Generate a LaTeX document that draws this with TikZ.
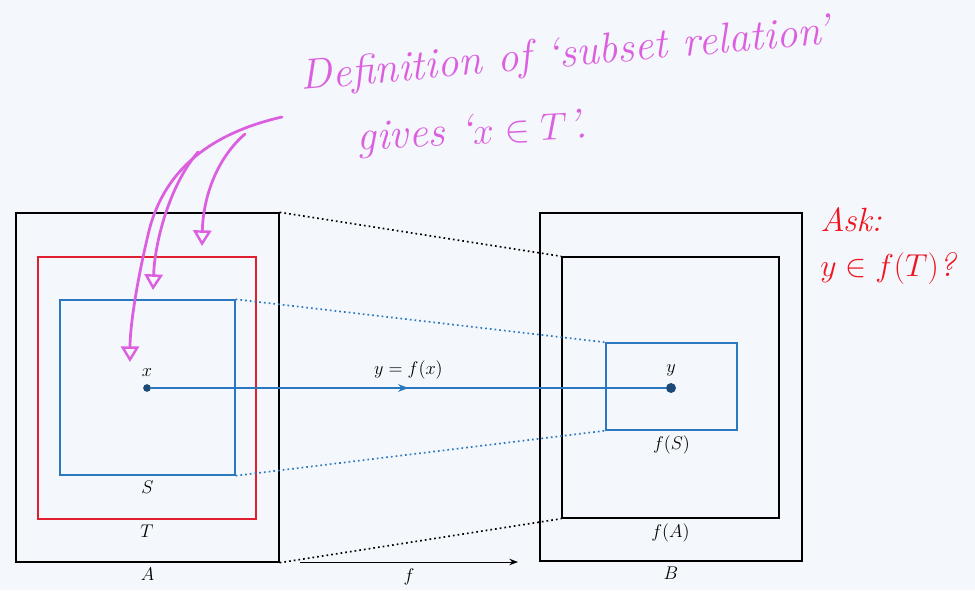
\documentclass[tikz,border=0pt]{standalone}
\usepackage{amsmath,amssymb}
\usepackage{xcolor}
\usepackage{tikz}
\usetikzlibrary{arrows.meta, positioning, fit, decorations.markings}
\definecolor{paperA}{HTML}{F4F7FC}
\definecolor{blueA}{HTML}{2A78C0}
\definecolor{blueB}{HTML}{1B4A78}
\definecolor{redA}{HTML}{E0202E}
\definecolor{redB}{HTML}{F0141E}
\definecolor{pinkA}{HTML}{DC5FE0}
\tikzset{
  setbox/.style={draw=#1, line width=0.9pt, inner sep=0pt},
  dotlink/.style={draw=#1, dotted, line width=1.1pt},
  elem/.style={circle, fill=blueB, inner sep=0pt, minimum size=#1},
  maparrow/.style={draw=blueA, line width=0.7pt, postaction={decorate},
    decoration={markings, mark=at position 0.5 with {\arrow{Stealth[length=2.4mm]}}}},
  pen/.style={draw=pinkA, line width=1.8pt, line cap=round,
    -{Triangle[open, length=3.6mm, width=4.2mm, line width=1.6pt]}},
  scrawl/.style={text=#1, font=\itshape\fontsize{28}{34}\selectfont, align=left}
}

\begin{document}
\begin{tikzpicture}[x=0.023cm, y=-0.023cm, every node/.append style={font=\large}]
  \fill[paperA] (0,0) rectangle (975,590);

  % domain side
  \node[setbox=black, fit={(16,213) (279,562)}] (A) {};
  \node[setbox=redA, fit={(38,257) (256,519)}] (T) {};
  \node[setbox=blueA, fit={(60,300) (235,475)}] (S) {};
  \node[below=0pt of A.south] {$A$};
  \node[below=0pt of T.south] {$T$};
  \node[below=0pt of S.south] {$S$};

  % codomain side
  \node[setbox=black, fit={(540,213) (802,561)}] (B) {};
  \node[setbox=black, fit={(562,257) (779,518)}] (fA) {};
  \node[setbox=blueA, fit={(606,343) (737,430)}] (fS) {};
  \node[below=0pt of B.south] {$B$};
  \node[below=0pt of fA.south] {$f(A)$};
  \node[below=0pt of fS.south] {$f(S)$};

  % images of the boxes
  \draw[dotlink=black] (A.north east) -- (fA.north west);
  \draw[dotlink=black] (A.south east) -- (fA.south west);
  \draw[dotlink=blueA] (S.north east) -- (fS.north west);
  \draw[dotlink=blueA] (S.south east) -- (fS.south west);

  % the element and its image
  \node[elem=5pt] (x) at (147,388) {};
  \node[elem=6.5pt] (y) at (671,388) {};
  \node[above=1pt of x] {$x$};
  \node[above=1pt of y] {$y$};
  \draw[maparrow] (x) -- node[above=2pt] {$y = f(x)$} (y);

  \coordinate (fstart) at (300,562);
  \coordinate (fend) at (518,562);
  \draw[-{Stealth[length=2mm]}, line width=0.6pt] (fstart) -- node[below=1pt] {$f$} (fend);

  % handwritten notes
  \node[scrawl=pinkA, rotate=5] (note1) at (565,56) {Definition of `subset relation'};
  \node[scrawl=pinkA, rotate=3, anchor=west] (note2) at (352,140) {gives `$x\in T$'.};
  \node[scrawl=redB, font=\itshape\fontsize{22}{29}\selectfont] (ask) at (888,246) {Ask:\\ $y\in f(T)$?};

  \coordinate (pen) at (282,117);
  \coordinate (tipA) at (202,246);
  \coordinate (tipT) at (153,290);
  \coordinate (tipS) at (130,362);
  \draw[pen] (pen) .. controls (225,130) and (165,160) .. (148,235)
    .. controls (135,290) and (130,330) .. (tipS);
  \draw[pen] (198,152) .. controls (170,185) and (155,240) .. (tipT);
  \draw[pen] (245,134) .. controls (215,160) and (203,200) .. (tipA);
\end{tikzpicture}
\end{document}
